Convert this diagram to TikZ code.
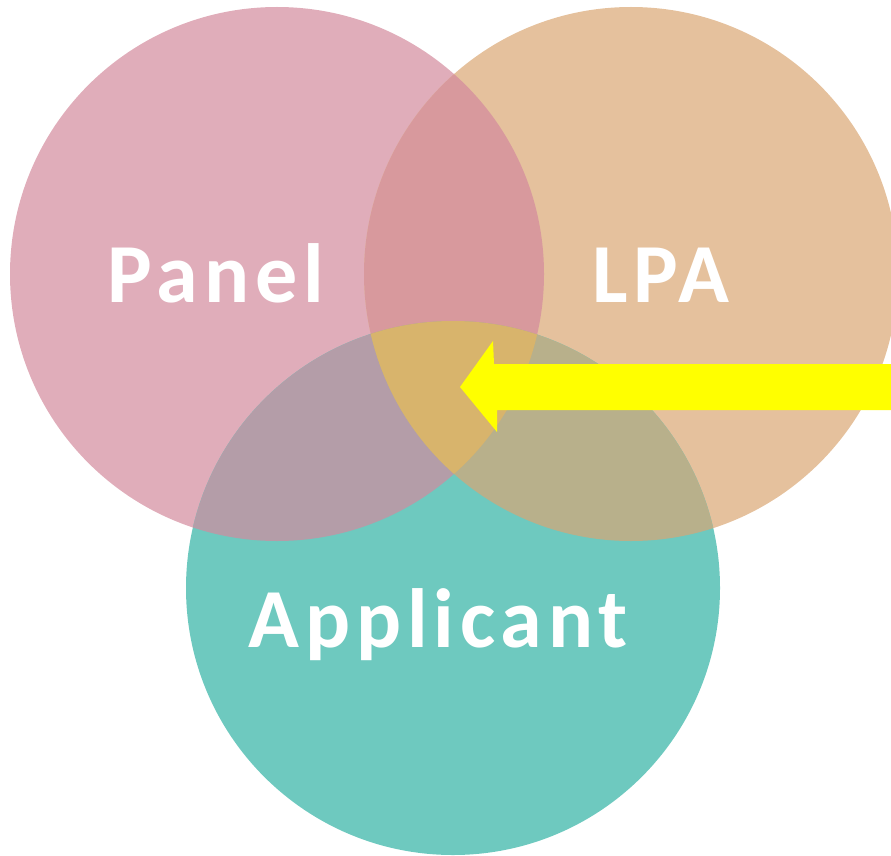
\documentclass[tikz,border=0pt]{standalone}
\usepackage{fontspec}
\newfontfamily\lblfont[LetterSpace=7]{Carlito}
\begin{document}
\begin{tikzpicture}[x=1pt,y=-1pt,
  lbl/.style={text=white,font=\lblfont\bfseries\fontsize{84}{100}\selectfont,anchor=base,inner sep=0pt}]
\definecolor{cP}{HTML}{E0ADBA}
\definecolor{cL}{HTML}{E5C19D}
\definecolor{cA}{HTML}{6EC9BF}
\definecolor{cPL}{HTML}{D8999D}
\definecolor{cPA}{HTML}{B49DA8}
\definecolor{cLA}{HTML}{B8B08B}
\definecolor{cPLA}{HTML}{D8B46C}
\definecolor{cY}{RGB}{255,255,0}
\useasboundingbox (0,0) rectangle (891,856);
\clip (0,0) rectangle (891,856);
\def\rr{267}
\coordinate (P) at (277,274);
\coordinate (L) at (631,274);
\coordinate (A) at (453,588);
% single circles
\fill[cP] (P) circle (\rr);
\fill[cL] (L) circle (\rr);
\fill[cA] (A) circle (\rr);
% pairwise intersections
\begin{scope}\clip (P) circle (\rr); \fill[cPL] (L) circle (\rr);\end{scope}
\begin{scope}\clip (P) circle (\rr); \fill[cPA] (A) circle (\rr);\end{scope}
\begin{scope}\clip (L) circle (\rr); \fill[cLA] (A) circle (\rr);\end{scope}
% triple intersection
\begin{scope}\clip (P) circle (\rr); \clip (L) circle (\rr); \fill[cPLA] (A) circle (\rr);\end{scope}
% labels
\node[lbl] (tP) at (216,302) {Panel};
\node[lbl] (tL) at (661,302) {LPA};
\node[lbl] (tA) at (438,647) {Applicant};
% arrow
\fill[cY] (460,387) -- (493,341) -- (494,364) -- (891,364) -- (891,410) -- (497,410) -- (497,432) -- cycle;
\end{tikzpicture}
\end{document}
